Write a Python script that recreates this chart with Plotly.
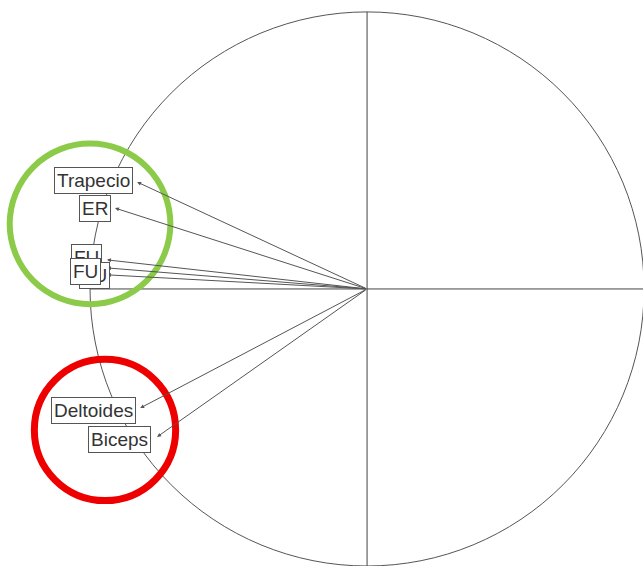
import plotly.graph_objects as go

# Variable loadings (arrow tips)
variables = ["Trapecio", "ER", "FU2", "FU3", "FU", "Deltoides", "Biceps"]
labels = ["Trapecio", "ER", "FU", "FU", "FU", "Deltoides", "Biceps"]
dim1 = [-0.830, -0.910, -0.939, -0.939, -0.939, -0.819, -0.758]
dim2 = [0.386, 0.292, 0.105, 0.051, 0.076, -0.430, -0.534]
# label anchor positions (repelled labels)
lab_x = [-0.986, -0.982, -1.011, -0.985, -1.018, -0.989, -0.895]
lab_y = [0.390, 0.292, 0.112, 0.050, 0.063, -0.437, -0.545]

W, H = 643, 566
fig = go.Figure()
fig.add_trace(go.Scatter(x=[0], y=[0], mode="markers", marker=dict(opacity=0), showlegend=False, hoverinfo="skip"))

shapes = [
    dict(type="circle", xref="x", yref="y", x0=-1, y0=-1, x1=1, y1=1, line=dict(color="#555555", width=1)),
    dict(type="line", xref="x", yref="y", x0=-1, y0=0, x1=1, y1=0, line=dict(color="#444444", width=1)),
    dict(type="line", xref="x", yref="y", x0=0, y0=-1, x1=0, y1=1, line=dict(color="#444444", width=1)),
    dict(type="circle", xref="x", yref="y", x0=-1.0 - 0.29, y0=0.235 - 0.29, x1=-1.0 + 0.29, y1=0.235 + 0.29,
         line=dict(color="#8CCB4A", width=6)),
    dict(type="circle", xref="x", yref="y", x0=-0.946 - 0.255, y0=-0.509 - 0.255, x1=-0.946 + 0.255, y1=-0.509 + 0.255,
         line=dict(color="#EE0000", width=7)),
]

annotations = []
for x, y in zip(dim1, dim2):
    annotations.append(dict(x=x, y=y, ax=0, ay=0, xref="x", yref="y", axref="x", ayref="y",
                            text="", showarrow=True, arrowhead=2, arrowsize=0.8, arrowwidth=1,
                            arrowcolor="#555555"))
for t, x, y in zip(labels, lab_x, lab_y):
    annotations.append(dict(x=x, y=y, xref="x", yref="y", text=t, showarrow=False,
                            font=dict(family="Liberation Sans, Arial", size=19, color="#333333"),
                            bgcolor="white", bordercolor="#555555", borderwidth=1, borderpad=2))

fig.update_layout(
    width=W, height=H, margin=dict(l=0, r=0, t=0, b=0),
    paper_bgcolor="white", plot_bgcolor="white",
    xaxis=dict(range=[-1.325, 0.996], visible=False, showgrid=False, zeroline=False, fixedrange=True),
    yaxis=dict(range=[-1.0, 1.043], visible=False, showgrid=False, zeroline=False, fixedrange=True),
    shapes=shapes, annotations=annotations, showlegend=False,
)
fig.write_html("out.html", config={"displayModeBar": False},
               post_script="document.body.style.margin='0';document.body.style.overflow='hidden';")
